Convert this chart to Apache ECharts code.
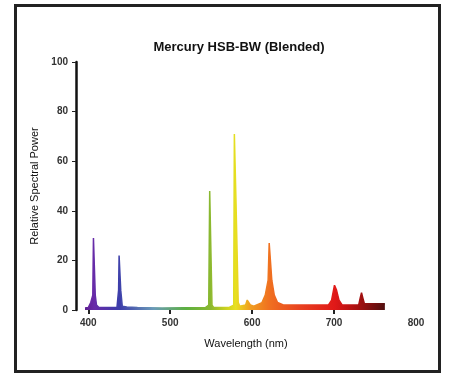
<!DOCTYPE html>
<html>
<head>
<meta charset="utf-8">
<script src="https://cdn.jsdelivr.net/npm/echarts@6/dist/echarts.min.js"></script>
<style>
html,body{margin:0;padding:0;background:#fff;}
#chart{width:449px;height:376px;}
</style>
</head>
<body>
<div id="chart"></div>
<script>
// Data
var titleText = 'Mercury HSB-BW (Blended)';
var xTicks = [400, 500, 600, 700, 800];
var yTicks = [0, 20, 40, 60, 80, 100];
var wavelengths = [396, 400, 403, 405.5, 406.3, 407.7, 408.5, 410, 413, 435, 437, 437.6, 439, 439.6, 441.5, 447, 460, 490, 543, 547, 548.2, 549.8, 551, 553, 572, 577.5, 578.3, 579.2, 580.2, 581, 582, 583, 585, 592, 594, 596, 598, 602, 612, 616, 619.5, 620.8, 622.2, 624, 627, 631, 638, 693, 697, 700.5, 703, 706, 710, 730, 732, 733.5, 735, 737, 762];
var power = [0.8, 1, 3, 6, 29, 29, 6, 2, 1, 1, 8, 22, 22, 8, 1.5, 1.2, 1, 0.8, 1, 2, 48, 48, 2, 1, 1, 2, 71, 71, 45, 45, 45, 3, 1.5, 2, 4, 4, 2, 1.5, 3, 6, 12, 27, 27, 12, 6, 3, 2, 2, 4, 10, 8, 4, 2, 2, 5, 7, 5, 2.5, 2.5];
var colorWavelengths = [396, 407, 438, 480, 520, 549, 567, 580, 597, 621, 660, 701, 732, 762];
var colorValues = ['#5a1e8c', '#6a2aa8', '#3c3caa', '#6a9ab8', '#5cb040', '#8ab830', '#c8d020', '#e8e020', '#f0a020', '#f07020', '#e84020', '#e01818', '#a01010', '#501010'];

var wMin = wavelengths[0], wMax = wavelengths[wavelengths.length - 1];
var stops = colorWavelengths.map(function (w, i) {
  return { offset: (w - wMin) / (wMax - wMin), color: colorValues[i] };
});
var grad = new echarts.graphic.LinearGradient(0, 0, 1, 0, stops);
var seriesData = wavelengths.map(function (w, i) { return [w, power[i]]; });

var chart = echarts.init(document.getElementById('chart'), null, { renderer: 'canvas' });
chart.setOption({
  animation: false,
  backgroundColor: '#fff',
  title: {
    text: titleText,
    left: 234, top: 36, textAlign: 'center',
    textStyle: { fontFamily: 'Liberation Sans, Arial', fontSize: 13, fontWeight: 'bold', color: '#111' }
  },
  graphic: [{
    type: 'rect', shape: { x: 15.5, y: 5.5, width: 424, height: 366 },
    style: { fill: 'none', stroke: '#222', lineWidth: 3 }, silent: true, z: 100
  }],
  grid: { left: 76, right: 33, top: 62, bottom: 66 },
  xAxis: {
    type: 'value', min: 385, max: 800,
    name: 'Wavelength (nm)', nameLocation: 'middle', nameGap: 28,
    nameTextStyle: { fontFamily: 'Liberation Sans, Arial', fontSize: 11, color: '#111' },
    axisLine: { show: false },
    axisTick: { show: true, customValues: [400, 500, 600, 700], length: 4, lineStyle: { color: '#222', width: 2 } },
    axisLabel: { customValues: xTicks, fontFamily: 'Liberation Sans, Arial', fontSize: 10, fontWeight: 'bold', color: '#333', margin: 8 },
    splitLine: { show: false }
  },
  yAxis: {
    type: 'value', min: 0, max: 100, interval: 20,
    name: 'Relative Spectral Power', nameLocation: 'middle', nameGap: 34, nameRotate: 90,
    nameTextStyle: { fontFamily: 'Liberation Sans, Arial', fontSize: 11, color: '#111' },
    axisLine: { show: true, lineStyle: { color: '#111', width: 2.5 } },
    axisTick: { show: true, length: 4, lineStyle: { color: '#222' } },
    axisLabel: { fontFamily: 'Liberation Sans, Arial', fontSize: 10, fontWeight: 'bold', color: '#333', margin: 8 },
    splitLine: { show: false }
  },
  series: [{
    type: 'line',
    data: seriesData,
    showSymbol: false,
    symbol: 'none',
    lineStyle: { color: grad, width: 1.5 },
    areaStyle: { color: grad, opacity: 1 },
    itemStyle: { color: grad }
  }]
});
</script>
</body>
</html>
